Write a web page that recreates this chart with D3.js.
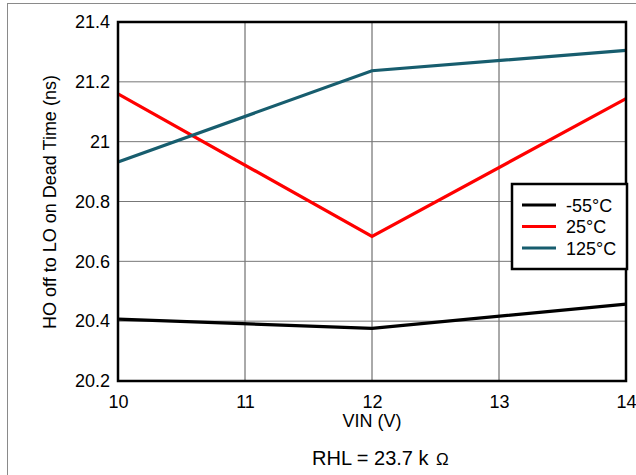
<!DOCTYPE html>
<html><head><meta charset="utf-8">
<script src="https://cdn.jsdelivr.net/npm/d3@7"></script>
<style>body{margin:0;background:#fff}svg{display:block;font-family:"Liberation Sans",Arial,sans-serif}</style>
</head><body><svg id="c" width="636" height="475"></svg>
<script>
const vin = [10, 12, 14];
const seriesNames = ["-55°C", "25°C", "125°C"];
const valsM55 = [20.407, 20.376, 20.457];
const vals25 = [21.16, 20.683, 21.144];
const vals125 = [20.932, 21.237, 21.305];
const xTicks = [10, 11, 12, 13, 14];
const yTicks = [20.2, 20.4, 20.6, 20.8, 21, 21.2, 21.4];
const colors = ["#000000", "#ff0000", "#175d6e"];

const svg = d3.select("#c");
const L = 118, R = 626, T = 22, B = 381;
const FS = 18;
const x = d3.scaleLinear().domain([10, 14]).range([L, R]);
const y = d3.scaleLinear().domain([20.2, 21.4]).range([B, T]);

svg.append("rect").attr("x", 7.5).attr("y", 3.5).attr("width", 700).attr("height", 600)
  .attr("fill", "none").attr("stroke", "#8a8a8a").attr("stroke-width", 1);

// grid
svg.append("g").selectAll("line").data(xTicks.slice(1, -1)).join("line")
  .attr("x1", d => x(d)).attr("x2", d => x(d)).attr("y1", T).attr("y2", B)
  .attr("stroke", "#555").attr("stroke-width", 1);
svg.append("g").selectAll("line").data(yTicks.slice(1, -1)).join("line")
  .attr("x1", L).attr("x2", R).attr("y1", d => y(d)).attr("y2", d => y(d))
  .attr("stroke", "#777").attr("stroke-width", 1);

// axes labels via d3 axes
const xAxis = svg.append("g").attr("transform", `translate(0,${B})`)
  .call(d3.axisBottom(x).tickValues(xTicks).tickSize(0).tickPadding(14).tickFormat(d3.format("d")));
xAxis.select(".domain").remove();
xAxis.selectAll("text").attr("font-size", FS).attr("fill", "#000").attr("font-family", "Liberation Sans, Arial, sans-serif");
const yAxis = svg.append("g").attr("transform", `translate(${L},0)`)
  .call(d3.axisLeft(y).tickValues(yTicks).tickSize(0).tickPadding(8).tickFormat(d => d3.format(".1f")(d).replace(/\.0$/, "")));
yAxis.select(".domain").remove();
yAxis.selectAll("text").attr("font-size", FS).attr("fill", "#000").attr("font-family", "Liberation Sans, Arial, sans-serif");

// series
const allVals = [valsM55, vals25, vals125];
const line = d3.line().x((d, i) => x(vin[i])).y(d => y(d));
allVals.forEach((vals, k) => {
  svg.append("path").datum(vals).attr("d", line).attr("fill", "none")
    .attr("stroke", colors[k]).attr("stroke-width", 3.2).attr("stroke-linejoin", "miter");
});

// frame
svg.append("rect").attr("x", L).attr("y", T).attr("width", R - L).attr("height", B - T)
  .attr("fill", "none").attr("stroke", "#000").attr("stroke-width", 2.5);

// legend
const lg = svg.append("g");
lg.append("rect").attr("x", 512).attr("y", 184).attr("width", 115).attr("height", 85)
  .attr("fill", "#fff").attr("stroke", "#000").attr("stroke-width", 2.5);
seriesNames.forEach((n, k) => {
  const yy = 205 + k * 21.5;
  lg.append("line").attr("x1", 522).attr("x2", 556).attr("y1", yy).attr("y2", yy)
    .attr("stroke", colors[k]).attr("stroke-width", 3.2);
  lg.append("text").attr("x", 566).attr("y", yy + 6.5).attr("font-size", FS).text(n);
});

// titles
svg.append("text").attr("x", 372).attr("y", 427).attr("text-anchor", "middle").attr("font-size", FS).text("VIN (V)");
svg.append("text").attr("transform", "translate(56,202) rotate(-90)").attr("text-anchor", "middle")
  .attr("font-size", FS).text("HO off to LO on Dead Time (ns)");
const rhl = svg.append("text").attr("x", 312).attr("y", 465).attr("font-size", 20);
rhl.append("tspan").text("RHL = 23.7 k");
rhl.append("tspan").attr("x", 436).attr("font-size", 17).text("Ω");
</script></body></html>
